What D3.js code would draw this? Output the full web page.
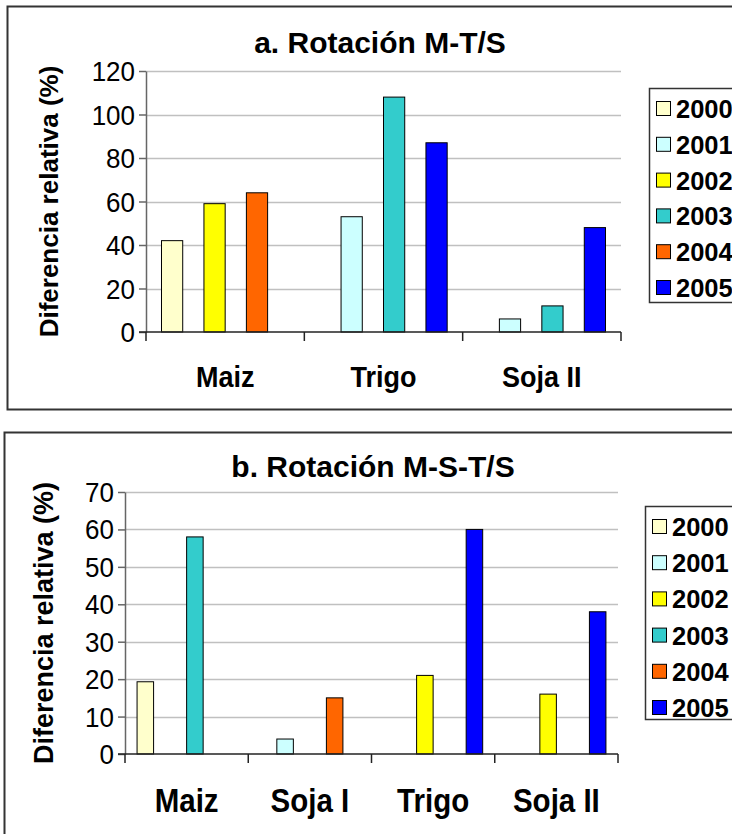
<!DOCTYPE html>
<html>
<head>
<meta charset="utf-8">
<script src="https://cdn.jsdelivr.net/npm/d3@7"></script>
<style>
  html, body { margin: 0; padding: 0; background: #fff; }
  svg { display: block; font-family: "Liberation Sans", Arial, sans-serif; }
</style>
</head>
<body>
<div id="app"></div>
<script>
// data
var years = ['2000', '2001', '2002', '2003', '2004', '2005'];
var colors = ['#FFFFCC', '#CCFFFF', '#FFFF00', '#33CCCC', '#FF6600', '#0000FF'];

var catsA = ['Maiz', 'Trigo', 'Soja II'];
var valuesA = [
  [42, null, null],   // 2000
  [null, 53, 6],      // 2001
  [59, null, null],   // 2002
  [null, 108, 12],    // 2003
  [64, null, null],   // 2004
  [null, 87, 48]      // 2005
];
var ticksA = [0, 20, 40, 60, 80, 100, 120];

var catsB = ['Maiz', 'Soja I', 'Trigo', 'Soja II'];
var valuesB = [
  [19.3, null, null, null],  // 2000
  [null, 4, null, null],     // 2001
  [null, null, 21, 16],      // 2002
  [58, null, null, null],    // 2003
  [null, 15, null, null],    // 2004
  [null, null, 60, 38]       // 2005
];
var ticksB = [0, 10, 20, 30, 40, 50, 60, 70];

var svg = d3.select('#app')
  .append('svg')
  .attr('width', 732)
  .attr('height', 834);

drawPanel({
  box: [7, 6, 760, 403],
  title: 'a. Rotación M-T/S', titleX: 380, titleY: 53,
  cats: catsA, values: valuesA, ticks: ticksA, max: 120,
  x0: 146, x1: 621, yTop: 71, yZero: 332,
  labelX: 58, labelFont: 26, catFont: 27, catY: 387,
  legend: [649, 88, 214], legendStep: 35.8
});

drawPanel({
  box: [4, 432, 760, 440],
  title: 'b. Rotación M-S-T/S', titleX: 373, titleY: 477,
  cats: catsB, values: valuesB, ticks: ticksB, max: 70,
  x0: 125, x1: 618, yTop: 492, yZero: 754,
  labelX: 53, labelFont: 27, catFont: 29.5, catY: 812,
  legend: [645, 506, 213], legendStep: 36.2
});

///////////////////////////////////////////////////////////
function drawPanel(p) {
  var g = svg.append('g');

  // frame
  g.append('rect')
    .attr('x', p.box[0] + 0.5).attr('y', p.box[1] + 0.5)
    .attr('width', p.box[2]).attr('height', p.box[3])
    .attr('fill', 'none').attr('stroke', '#333').attr('stroke-width', 2);

  var x = d3.scaleBand().domain(p.cats).range([p.x0, p.x1]).padding(0);
  var xi = d3.scaleBand().domain(years).range([0, x.bandwidth()])
    .paddingInner(0).paddingOuter(0.73);
  var y = d3.scaleLinear().domain([0, p.max]).range([p.yZero, p.yTop]);

  // gridlines
  g.append('g').selectAll('line')
    .data(p.ticks.slice(1))
    .enter().append('line')
    .attr('x1', p.x0).attr('x2', p.x1)
    .attr('y1', function(d) { return Math.round(y(d)) + 0.5; })
    .attr('y2', function(d) { return Math.round(y(d)) + 0.5; })
    .attr('stroke', '#c0c0c0').attr('stroke-width', 1.5);

  // bars
  var flat = [];
  years.forEach(function(yr, i) {
    p.values[i].forEach(function(v, j) {
      if (v != null) flat.push({ year: yr, cat: p.cats[j], value: v, color: colors[i] });
    });
  });
  g.append('g').selectAll('rect')
    .data(flat)
    .enter().append('rect')
    .attr('x', function(d) { return x(d.cat) + xi(d.year); })
    .attr('y', function(d) { return y(d.value); })
    .attr('width', xi.bandwidth())
    .attr('height', function(d) { return y(0) - y(d.value); })
    .attr('fill', function(d) { return d.color; })
    .attr('stroke', '#000').attr('stroke-width', 1);

  // y axis
  var yAxis = g.append('g')
    .attr('transform', 'translate(' + p.x0 + ',0)')
    .call(d3.axisLeft(y).tickValues(p.ticks).tickSize(7).tickPadding(4).tickSizeOuter(0));
  yAxis.select('.domain').attr('stroke', '#666').attr('stroke-width', 1.5);
  yAxis.selectAll('.tick line').attr('stroke', '#666').attr('stroke-width', 1.5);
  yAxis.selectAll('.tick text')
    .attr('font-size', 26).attr('font-family', '"Liberation Sans", Arial, sans-serif')
    .attr('fill', '#000').attr('dy', '0.34em')
    .attr('transform', 'scale(1,1.08)');

  // x axis line + category boundary ticks
  g.append('line')
    .attr('x1', p.x0 - 7).attr('x2', p.x1)
    .attr('y1', p.yZero).attr('y2', p.yZero)
    .attr('stroke', '#222').attr('stroke-width', 1.5);
  var bounds = p.cats.map(function(c) { return x(c); }).concat([p.x1]);
  g.append('g').selectAll('line')
    .data(bounds)
    .enter().append('line')
    .attr('x1', function(d) { return d; }).attr('x2', function(d) { return d; })
    .attr('y1', p.yZero).attr('y2', p.yZero + 9)
    .attr('stroke', '#222').attr('stroke-width', 1.5);

  // category labels
  g.append('g').selectAll('text')
    .data(p.cats)
    .enter().append('text')
    .attr('transform', function(d) {
      return 'translate(' + (x(d) + x.bandwidth() / 2) + ',' + p.catY + ') scale(1,1.1)';
    })
    .attr('text-anchor', 'middle')
    .attr('font-size', p.catFont).attr('font-weight', 'bold')
    .text(function(d) { return d; });

  // title
  g.append('text')
    .attr('x', p.titleX).attr('y', p.titleY)
    .attr('text-anchor', 'middle')
    .attr('font-size', 30).attr('font-weight', 'bold')
    .text(p.title);

  // y label
  g.append('text')
    .attr('transform', 'translate(' + p.labelX + ',' + ((p.yTop + p.yZero) / 2) + ') rotate(-90)')
    .attr('text-anchor', 'middle')
    .attr('font-size', p.labelFont).attr('font-weight', 'bold')
    .text('Diferencia relativa (%)');

  // legend
  var lg = g.append('g');
  lg.append('rect')
    .attr('x', p.legend[0] + 0.5).attr('y', p.legend[1] + 0.5)
    .attr('width', 120).attr('height', p.legend[2])
    .attr('fill', '#fff').attr('stroke', '#333').attr('stroke-width', 1.5);
  var item = lg.selectAll('g.item')
    .data(years)
    .enter().append('g')
    .attr('class', 'item')
    .attr('transform', function(d, i) {
      return 'translate(' + (p.legend[0] + 7) + ',' + (p.legend[1] + 21 + i * p.legendStep) + ')';
    });
  item.append('rect')
    .attr('x', 0.5).attr('y', -7.5)
    .attr('width', 14).attr('height', 14)
    .attr('fill', function(d, i) { return colors[i]; })
    .attr('stroke', '#000').attr('stroke-width', 1);
  item.append('text')
    .attr('x', 20).attr('y', 9)
    .attr('font-size', 25.5).attr('font-weight', 'bold')
    .text(function(d) { return d; });
}
</script>
</body>
</html>
